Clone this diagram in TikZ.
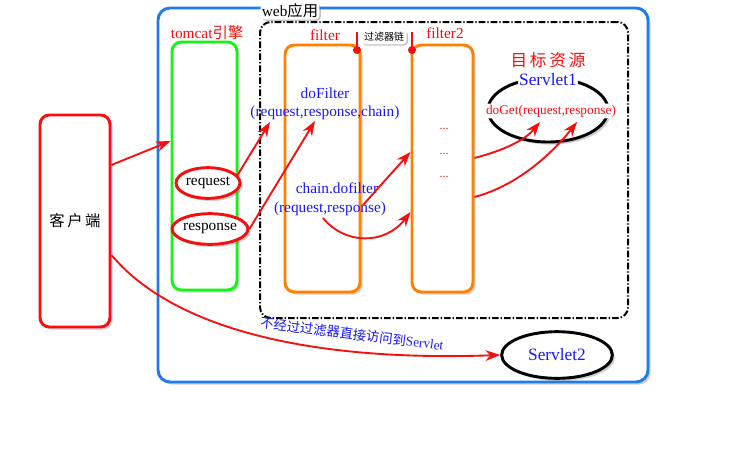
\documentclass[tikz,border=0pt]{standalone}
\usepackage{fontspec}
\setmainfont{Liberation Serif}
\newfontfamily\cjk{Noto Sans CJK SC}
\usetikzlibrary{arrows.meta,shapes.geometric,fit,shadows,calc}
\definecolor{myred}{RGB}{245,15,15}
\definecolor{mygreen}{RGB}{20,245,20}
\definecolor{myorange}{RGB}{255,128,0}
\definecolor{myblue}{RGB}{30,125,235}
\definecolor{txtblue}{RGB}{25,25,245}
\tikzset{
  shad/.style={drop shadow={shadow xshift=2pt,shadow yshift=-2pt,opacity=0.3,fill=black!60}},
  framebox/.style={draw=#1,line width=2.2pt,rounded corners=7pt,inner sep=0pt,fill=white,shad},
  oval/.style={ellipse,draw=#1,line width=2.2pt,inner sep=0pt,fill=white,shad},
  redarrow/.style={draw=myred,line width=1.4pt,-{Stealth[length=11pt,width=8pt]}},
  lbl/.style={inner sep=1pt,font=\fontsize{11.5}{13}\selectfont},
  tag/.style={fill=white,rounded corners=3pt,inner sep=2pt,drop shadow={shadow xshift=1pt,shadow yshift=-1pt,opacity=0.4,fill=black!60}}
}
\begin{document}
\begin{tikzpicture}[x=0.75pt,y=-0.75pt]
\useasboundingbox (0,0) rectangle (731,457);
% frames
\node[framebox=myblue,fit={(158,8)(648,382)},rounded corners=9pt] (web) {};
\node[draw=black,line width=1.5pt,rounded corners=8pt,inner sep=0pt,
      dash pattern=on 5pt off 1.5pt on 1pt off 1.5pt,fit={(260,22)(628,318)}] (chainbox) {};
\node[framebox=myred,fit={(40,115)(110,327)}] (client) {};
\node[framebox=mygreen,fit={(172,42)(237,290)}] (tomcat) {};
\node[framebox=myorange,fit={(285,45)(360,292)}] (filter1) {};
\node[framebox=myorange,fit={(412,45)(473,292)}] (filter2) {};
% ellipses
\node[oval=myred,minimum width=48pt,minimum height=23pt,font=\fontsize{11.5}{13}\selectfont] (request) at (208,183) {request};
\node[oval=myred,minimum width=50pt,minimum height=23pt,font=\fontsize{11.5}{13}\selectfont] (response) at (210,229) {response};
\node[oval=black,minimum width=90pt,minimum height=48pt] (servlet1) at (548,110) {};
\node[oval=black,minimum width=83pt,minimum height=35pt,text=txtblue,font=\fontsize{13}{15}\selectfont] (servlet2) at (557,355) {Servlet2};
% labels
\node[tag,lbl] (weblbl) at (290,11) {web{\cjk 应用}};
\node[lbl,text=myred] (tomcatlbl) at (207,33) {tomcat{\cjk 引擎}};
\node[lbl,text=myred] (filterlbl) at (325,35) {filter};
\node[lbl,text=myred] (filter2lbl) at (445,33) {filter2};
\node[tag,font=\cjk\fontsize{7.5}{9}\selectfont] (chainlbl) at (384,37) {过滤器链};
\node[lbl,text=txtblue] (dofilter) at (325,93) {doFilter};
\node[lbl,text=txtblue] (dofilterargs) at (325,113) {(request,response,chain)};
\node[lbl,text=txtblue] (chaindo) at (337,188) {chain.dofilter};
\node[lbl,text=txtblue] (chainargs) at (330,209) {(request,response)};
\node[text=myred,font=\fontsize{9}{10}\selectfont] (dots1) at (444,129) {...};
\node[text=myred,font=\fontsize{9}{10}\selectfont] (dots2) at (444,154) {...};
\node[text=myred,font=\fontsize{9}{10}\selectfont] (dots3) at (444,177) {...};
\node[text=myred,font=\cjk\fontsize{12.5}{14}\selectfont] (target) at (548,60) {目\,标\,资\,源};
\node[text=txtblue,font=\fontsize{13}{15}\selectfont,fill=white,inner sep=1pt] (s1lbl) at (548,80) {Servlet1};
\node[text=myred,font=\fontsize{10}{11}\selectfont,fill=white,inner sep=1pt,rounded corners=3pt] (doget) at (551,111) {doGet(request,response)};
\node[text=txtblue,font=\fontsize{10}{11}\selectfont,rotate=-7] (direct) at (352,334) {{\cjk 不经过过滤器直接访问到}Servlet};
\node[font=\cjk\fontsize{11.5}{13}\selectfont] (clientlbl) at (client.center) {客\,户\,端};
% filter chain bracket
\coordinate (chl) at (357,32);
\coordinate (chr) at (412,32);
\coordinate (dl) at (357,50);
\coordinate (dr) at (412,50);
\draw[myred,line width=2pt] (chl) -- (dl);
\draw[myred,line width=2pt] (chr) -- (dr);
\fill[myred] (dl) circle (3pt);
\fill[myred] (dr) circle (3pt);
% arrows
\draw[redarrow] (client.east |- 0,165) -- (tomcat.west |- 0,141);
\coordinate (t2) at (270,122);
\coordinate (t3) at (315,121);
\draw[redarrow] (request.15) -- (t2);
\draw[redarrow] (response.east) -- (t3);
\coordinate (s4) at (363,205);
\coordinate (s5) at (323,218);
\draw[redarrow] (s4) -- (filter2.west |- 0,152);
\draw[redarrow] (s5) .. controls (345,245) and (385,245) .. (filter2.west |- 0,212);
\coordinate (t6) at (540,122);
\coordinate (t7) at (577,122);
\draw[redarrow] (filter2.east |- 0,158) .. controls (505,150) and (525,140) .. (t6);
\draw[redarrow] (filter2.east |- 0,197) .. controls (520,185) and (555,150) .. (t7);
\draw[redarrow] (client.east |- 0,255) .. controls (170,325) and (300,362) .. (servlet2.west);
\end{tikzpicture}
\end{document}
